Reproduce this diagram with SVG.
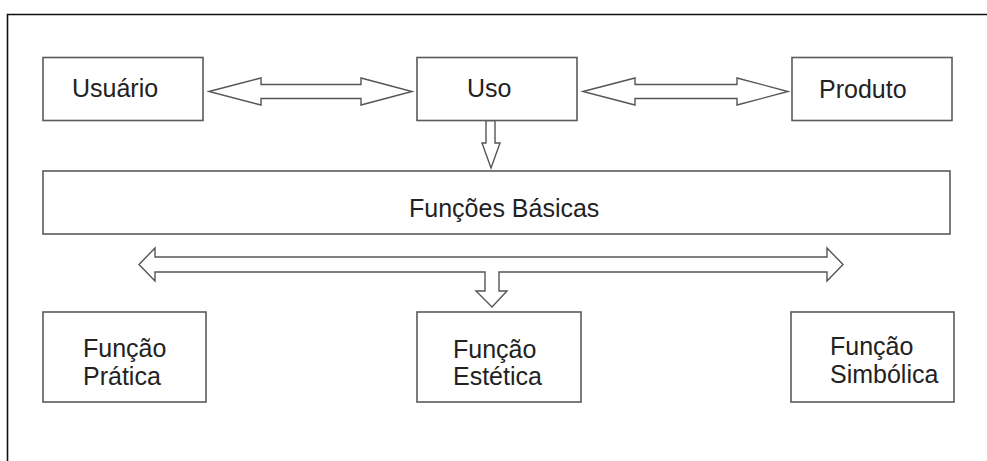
<svg xmlns="http://www.w3.org/2000/svg" width="987" height="461" viewBox="0 0 987 461">
<style>
.box{fill:#fff;stroke:#5a5a5a;stroke-width:1.6}
.arr{fill:#fff;stroke:#555;stroke-width:1.4;stroke-linejoin:miter}
text{font-family:"Liberation Sans",Arial,sans-serif;font-size:25px;fill:#222}
</style>
<rect x="0" y="0" width="987" height="461" fill="#fff"/>
<g id="frame"><path d="M7.5,461 V14.5 H987" fill="none" stroke="#111" stroke-width="1.6"/></g>
<g id="connectors">
<path class="arr" d="M209,91.5 L261,78 L261,84.5 L361,84.5 L361,78 L412,91.5 L361,105 L361,98.5 L261,98.5 L261,105 Z"/>
<path class="arr" d="M583,91.5 L635,78 L635,84.5 L737,84.5 L737,78 L788,91.5 L737,105 L737,98.5 L635,98.5 L635,105 Z"/>
<path class="arr" d="M486,120.5 L495,120.5 L495,143 L500,143 L491,168 L482,143 L486,143 Z"/>
<path class="arr" d="M139,264.5 L155,248 L155,257 L827,257 L827,248 L843,264.5 L827,281 L827,272 L499,272 L499,291 L507,291 L492,307 L476,291 L485,291 L485,272 L155,272 L155,281 Z"/>
</g>
<g id="usuario"><rect class="box" x="43" y="57.5" width="160" height="63"/><text x="72" y="97">Usuário</text></g>
<g id="uso"><rect class="box" x="417" y="57.5" width="160" height="63"/><text x="467" y="97">Uso</text></g>
<g id="produto"><rect class="box" x="792" y="57.5" width="160" height="63"/><text x="819" y="98">Produto</text></g>
<g id="funcoes-basicas"><rect class="box" x="43" y="171" width="907" height="63"/><text x="409" y="217">Funções Básicas</text></g>
<g id="funcao-pratica"><rect class="box" x="43" y="312" width="163" height="90"/><text x="83" y="357">Função</text><text x="83" y="385">Prática</text></g>
<g id="funcao-estetica"><rect class="box" x="417" y="312" width="164" height="90"/><text x="453" y="358">Função</text><text x="453" y="385">Estética</text></g>
<g id="funcao-simbolica"><rect class="box" x="791" y="312" width="163" height="90"/><text x="830" y="355">Função</text><text x="830" y="383">Simbólica</text></g>
</svg>
